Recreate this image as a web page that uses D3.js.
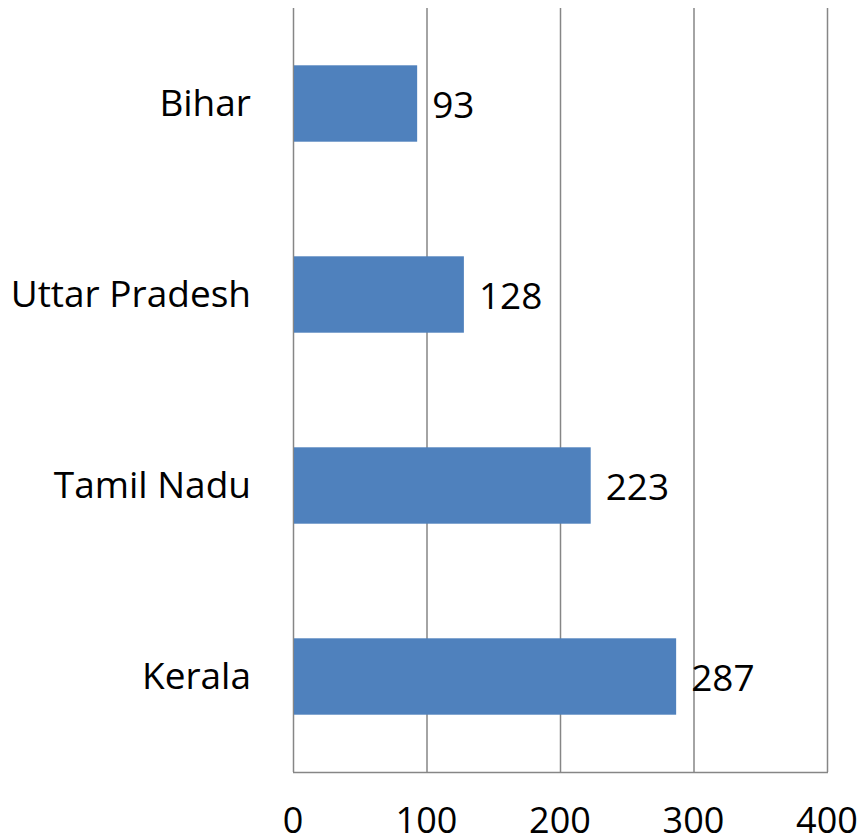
<!DOCTYPE html>
<html>
<head>
<meta charset="utf-8">
<script src="https://cdn.jsdelivr.net/npm/d3@7"></script>
<style>
  body { margin: 0; background: #fff; }
  text { font-family: "Open Sans", "Noto Sans", sans-serif; fill: #000; }
</style>
</head>
<body>
<div id="chart"></div>
<script>
const states = ['Bihar', 'Uttar Pradesh', 'Tamil Nadu', 'Kerala'];
const values = [93, 128, 223, 287];
const xTicks = [0, 100, 200, 300, 400];

const width = 860;
const height = 837;
const margin = { top: 8, right: 33, bottom: 65, left: 293 };

const svg = d3.select('#chart')
    .append('svg')
    .attr('width', width)
    .attr('height', height);

const x = d3.scaleLinear()
    .domain([0, 400])
    .range([margin.left, width - margin.right]);

const y = d3.scaleBand()
    .domain(states)
    .range([margin.top, height - margin.bottom])
    .paddingInner(0.6)
    .paddingOuter(0.3);

// vertical gridlines
svg.append('g')
    .selectAll('line')
    .data(xTicks)
    .enter().append('line')
    .attr('x1', d => x(d) + 0.5)
    .attr('x2', d => x(d) + 0.5)
    .attr('y1', margin.top)
    .attr('y2', height - margin.bottom)
    .attr('stroke', '#868686')
    .attr('stroke-width', 1.5);

// bottom axis line
svg.append('line')
    .attr('x1', x(0))
    .attr('x2', x(400) + 1)
    .attr('y1', height - margin.bottom + 0.5)
    .attr('y2', height - margin.bottom + 0.5)
    .attr('stroke', '#868686')
    .attr('stroke-width', 1.5);

// bars
svg.append('g')
    .selectAll('rect')
    .data(values)
    .enter().append('rect')
    .attr('x', x(0) + 1)
    .attr('y', (d, i) => y(states[i]))
    .attr('width', d => x(d) - x(0) - 1)
    .attr('height', y.bandwidth())
    .attr('fill', '#4F81BD');

// value labels
svg.append('g')
    .selectAll('text')
    .data(values)
    .enter().append('text')
    .attr('x', d => x(d) + 15)
    .attr('y', (d, i) => y(states[i]) + y.bandwidth() / 2 + 14)
    .attr('font-size', 37)
    .text(d => d);

// category labels
svg.append('g')
    .selectAll('text')
    .data(states)
    .enter().append('text')
    .attr('x', margin.left - 42)
    .attr('y', d => y(d) + y.bandwidth() / 2 + 12)
    .attr('text-anchor', 'end')
    .attr('font-size', 37)
    .text(d => d);

// x tick labels
svg.append('g')
    .selectAll('text')
    .data(xTicks)
    .enter().append('text')
    .attr('x', d => x(d))
    .attr('y', height - 4)
    .attr('text-anchor', 'middle')
    .attr('font-size', 36)
    .text(d => d);
</script>
</body>
</html>
